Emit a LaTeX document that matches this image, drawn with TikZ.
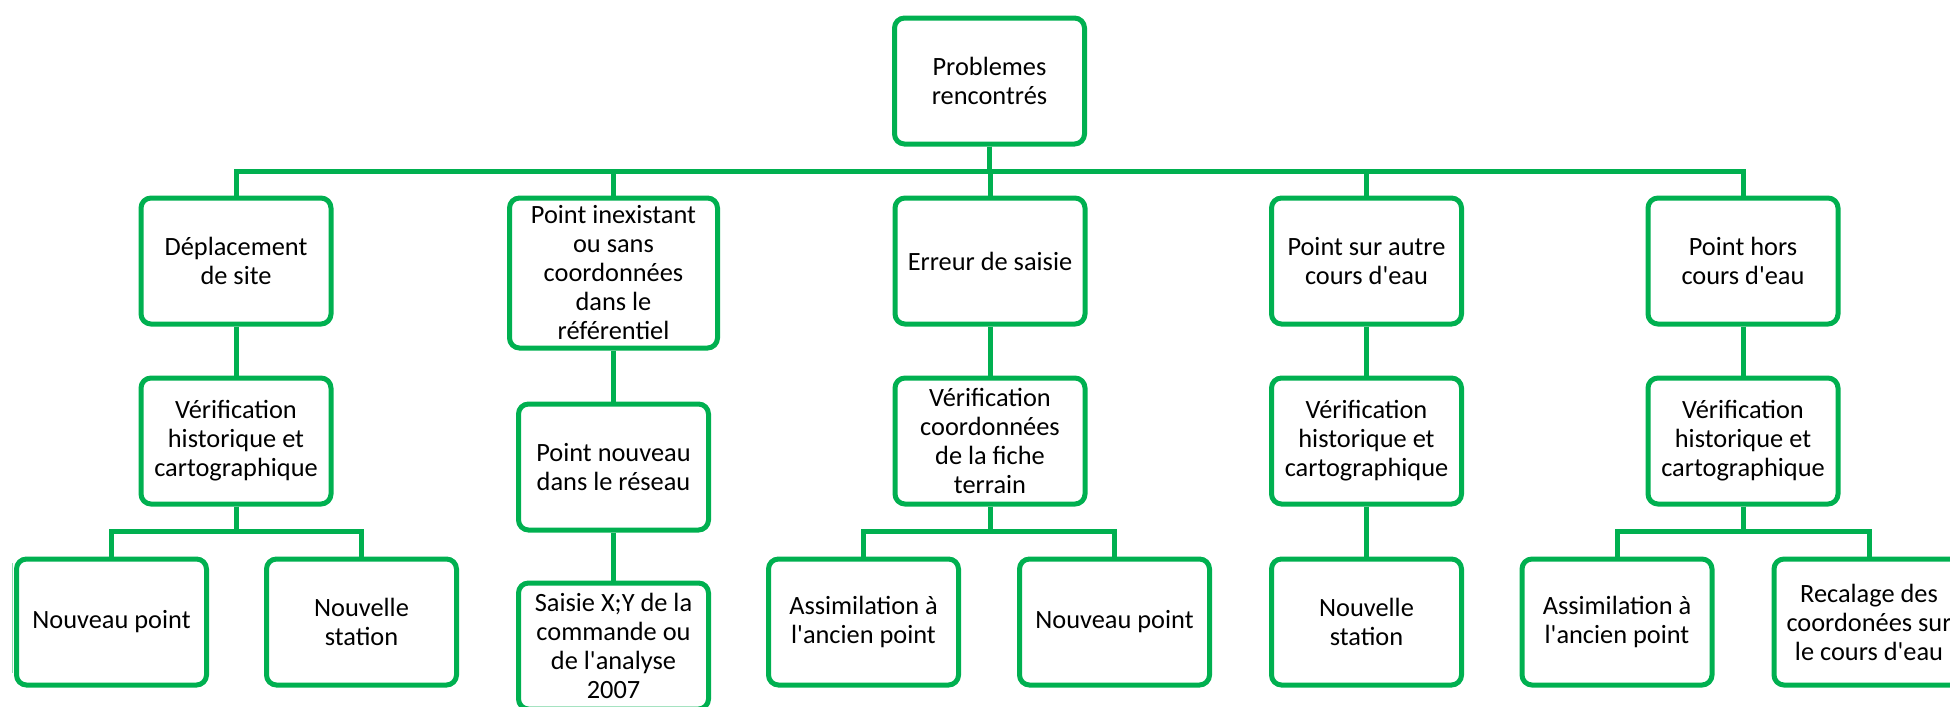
\documentclass[tikz,border=0pt]{standalone}
\usepackage{fontspec}
\setmainfont{Carlito}
\usetikzlibrary{calc}

\definecolor{vert}{HTML}{00B050}
\tikzset{
	box/.style={rectangle, rounded corners=1mm, draw=vert, line width=0.5mm, fill=white,
		minimum width=1.9cm, minimum height=1.26cm, inner sep=1pt, align=center, anchor=north,
		font=\fontsize{7.5}{8.25}\selectfont},
	link/.style={draw=vert, line width=0.5mm},
	elbow/.style={to path={(\tikztostart) |- ($(\tikztostart)!0.5!(\tikztotarget)$) -| (\tikztotarget)}}
}

\begin{document}
\begin{tikzpicture}
		\useasboundingbox (0,0) rectangle (19.5,7.06);
		\clip (0,0) rectangle (19.5,7.06);
		% top
		\draw (9.895,6.905) node [box] (prob) {Problemes\\rencontrés};
		% first level
		\draw (2.36,5.105) node [box] (dep) {Déplacement\\de site};
		\draw (6.135,5.105) node [box, minimum width=2.08cm, minimum height=1.5cm] (inex) {Point inexistant\\ou sans\\coordonnées\\dans le\\référentiel};
		\draw (9.9,5.105) node [box] (err) {Erreur de saisie};
		\draw (13.665,5.105) node [box] (autre) {Point sur autre\\cours d\textquotesingle eau};
		\draw (17.43,5.105) node [box] (hors) {Point hors\\cours d\textquotesingle eau};
		% second level
		\draw (2.36,3.305) node [box] (verA) {Vérification\\historique et\\cartographique};
		\draw (6.135,3.045) node [box] (nouv) {Point nouveau\\dans le réseau};
		\draw (9.9,3.305) node [box] (verB) {Vérification\\coordonnées\\de la fiche\\terrain};
		\draw (13.665,3.305) node [box] (verC) {Vérification\\historique et\\cartographique};
		\draw (17.43,3.305) node [box] (verD) {Vérification\\historique et\\cartographique};
		% third level
		\draw (1.115,1.495) node [box] (ptA) {Nouveau point};
		\draw (3.615,1.495) node [box] (stA) {Nouvelle\\station};
		\draw (6.135,1.255) node [box] (saisie) {Saisie X;Y de la\\commande ou\\de l\textquotesingle analyse\\2007};
		\draw (8.635,1.495) node [box] (assA) {Assimilation à\\l\textquotesingle ancien point};
		\draw (11.145,1.495) node [box] (ptB) {Nouveau point};
		\draw (13.665,1.495) node [box] (stB) {Nouvelle\\station};
		\draw (16.17,1.495) node [box] (assB) {Assimilation à\\l\textquotesingle ancien point};
		\draw (18.69,1.495) node [box] (recal) {Recalage des\\coordonées sur\\le cours d\textquotesingle eau};
		\draw [vert!45, line width=0.3pt] (0.125,1.43) -- (0.125,0.33);
		\path[link]
			(prob.south) edge [elbow] (dep.north)
			             edge [elbow] (inex.north)
			             edge [elbow] (err.north)
			             edge [elbow] (autre.north)
			             edge [elbow] (hors.north)
			(dep.south) edge [elbow] (verA.north)
			(inex.south) edge (nouv.north)
			(err.south) edge [elbow] (verB.north)
			(autre.south) edge [elbow] (verC.north)
			(hors.south) edge [elbow] (verD.north)
			(verA.south) edge [elbow] (ptA.north)
			             edge [elbow] (stA.north)
			(nouv.south) edge (saisie.north)
			(verB.south) edge [elbow] (assA.north)
			             edge [elbow] (ptB.north)
			(verC.south) edge [elbow] (stB.north)
			(verD.south) edge [elbow] (assB.north)
			             edge [elbow] (recal.north);
	\end{tikzpicture}
\end{document}
